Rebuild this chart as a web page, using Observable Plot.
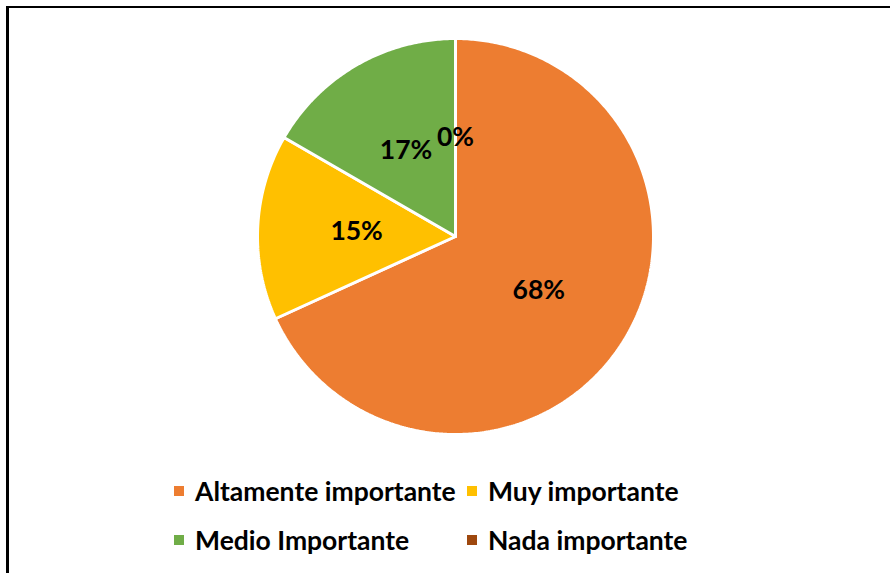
<!DOCTYPE html>
<html>
<head>
<meta charset="utf-8">
<script src="https://cdn.jsdelivr.net/npm/d3@7"></script>
<script src="https://cdn.jsdelivr.net/npm/@observablehq/plot@0.6"></script>
<style>
  html, body { margin: 0; padding: 0; background: #fff; }
  #wrap { position: relative; width: 890px; height: 573px; overflow: hidden; background: #fff; }
  #frame { position: absolute; left: 6px; top: 6px; width: 1000px; height: 1000px;
           border-top: 2px solid #000; border-left: 3px solid #000; box-sizing: border-box; }
  #chart { position: absolute; left: 0; top: 0; }
  #legend { position: absolute; left: 174px; top: 474px; display: grid;
            grid-template-columns: 293px auto; row-gap: 15px;
            font-family: Lato, "Open Sans", sans-serif; font-weight: bold; font-size: 26.5px; color: #000; }
  .item { display: flex; align-items: center; height: 34px; white-space: nowrap; }
  .sw { width: 10px; height: 10px; margin-right: 11px; flex: none; }
</style>
</head>
<body>
<div id="wrap">
  <div id="frame"></div>
  <div id="chart"></div>
  <div id="legend"></div>
</div>
<script>
// ---- data ----
const categories = ["Altamente importante", "Muy importante", "Medio Importante", "Nada importante"];
const counts = [45, 10, 11, 0];
const percentLabels = ["68%", "15%", "17%", "0%"];
const colors = ["#ED7D31", "#FFC000", "#70AD47", "#9E480E"];

// ---- derived geometry (from data) ----
const arcs = d3.pie().sort(null).value(d => d)(counts);
const slicePoints = [];
arcs.forEach((a, i) => {
  const cat = categories[i];
  if (a.endAngle - a.startAngle <= 0) return;
  slicePoints.push({cat, x: 0, y: 0});
  const n = Math.max(2, Math.ceil((a.endAngle - a.startAngle) / 0.01));
  for (let k = 0; k <= n; k++) {
    const t = a.startAngle + (a.endAngle - a.startAngle) * k / n;
    slicePoints.push({cat, x: Math.sin(t), y: Math.cos(t)});
  }
  slicePoints.push({cat, x: 0, y: 0});
});
const labels = arcs.map((a, i) => {
  const m = (a.startAngle + a.endAngle) / 2;
  return {cat: categories[i], label: percentLabels[i], x: 0.5 * Math.sin(m), y: 0.5 * Math.cos(m)};
});

const chart = Plot.plot({
  width: 890,
  height: 460,
  marginLeft: 257,
  marginRight: 237,
  marginTop: 38,
  marginBottom: 26,
  x: {domain: [-1, 1], axis: null},
  y: {domain: [-1, 1], axis: null},
  color: {domain: categories, range: colors},
  style: {background: "transparent"},
  marks: [
    Plot.line(slicePoints, {x: "x", y: "y", z: "cat", fill: "cat", stroke: "white", strokeWidth: 3, strokeLinejoin: "miter", curve: "linear"}),
    Plot.text(labels, {x: "x", y: "y", text: "label", fontSize: 26.5, fontWeight: "bold", fill: "black",
      fontFamily: "Lato, 'Open Sans', sans-serif"})
  ]
});
document.getElementById("chart").appendChild(chart);

const legend = document.getElementById("legend");
categories.forEach((c, i) => {
  const it = document.createElement("div");
  it.className = "item";
  const sw = document.createElement("span");
  sw.className = "sw";
  sw.style.background = colors[i];
  const tx = document.createElement("span");
  tx.textContent = c;
  it.appendChild(sw); it.appendChild(tx);
  legend.appendChild(it);
});
</script>
</body>
</html>
